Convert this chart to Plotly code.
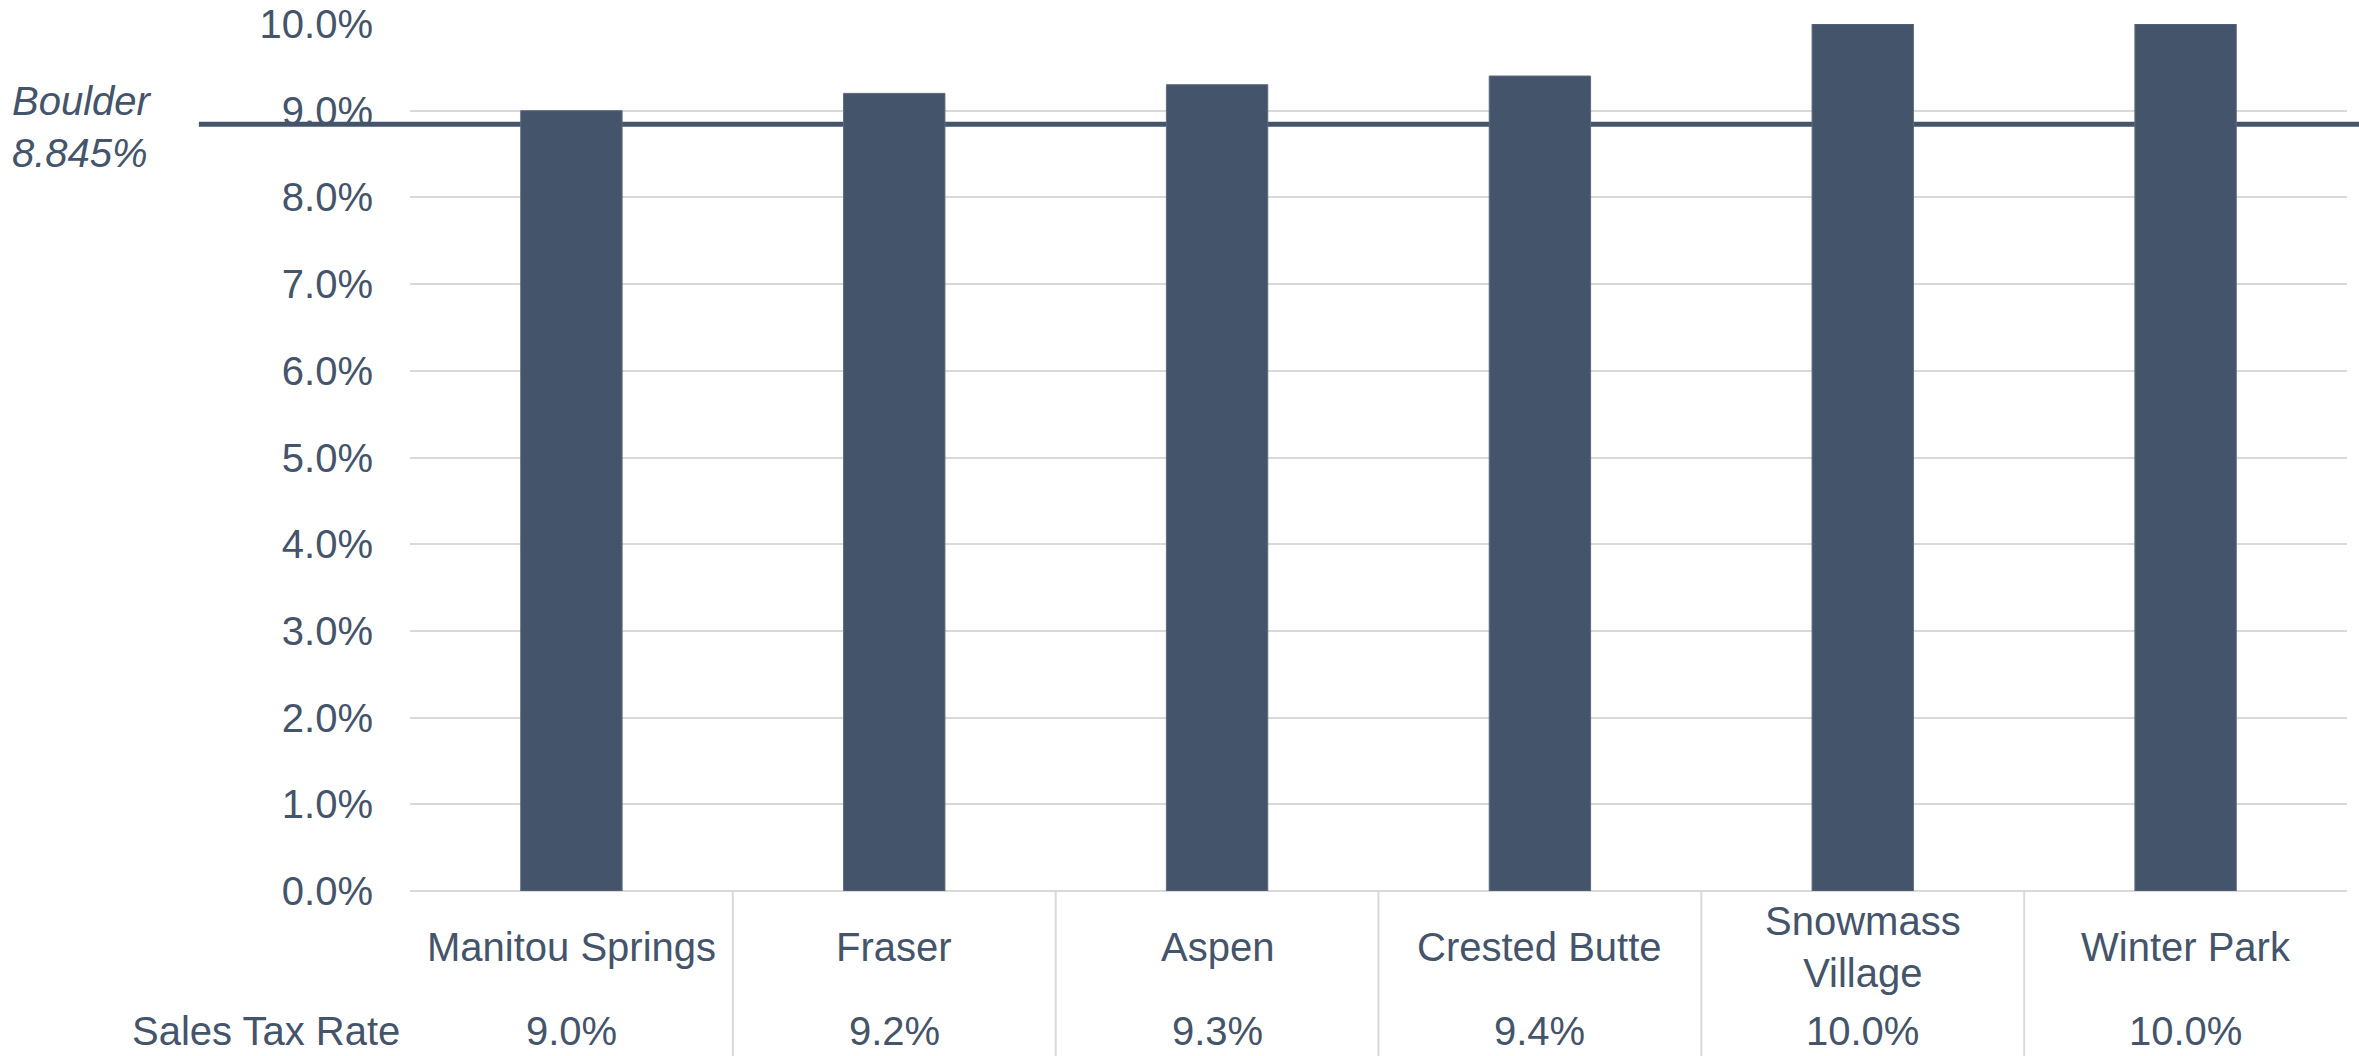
import plotly.graph_objects as go

categories = ["Manitou Springs", "Fraser", "Aspen", "Crested Butte", "Snowmass Village", "Winter Park"]
category_labels = ["Manitou Springs", "Fraser", "Aspen", "Crested Butte", "Snowmass<br>Village", "Winter Park"]
sales_tax = [9.0, 9.2, 9.3, 9.4, 10.0, 10.0]
boulder_rate = 8.845
y_ticks = [0, 1, 2, 3, 4, 5, 6, 7, 8, 9, 10]

COLOR = "#44546A"
FONT = "Liberation Sans, Arial, sans-serif"
GRID = "#D9D9D9"

fig = go.Figure()
fig.add_trace(go.Bar(
    x=categories, y=sales_tax, width=0.314,
    marker=dict(color=COLOR, line=dict(color="#5E6B7E", width=1)),
    hoverinfo="x+y",
))

# Boulder reference line (extends beyond plot area to the right edge)
fig.add_shape(type="line", xref="paper", yref="y",
              x0=-0.109, x1=1.01, y0=boulder_rate, y1=boulder_rate,
              line=dict(color=COLOR, width=5), layer="below")

annotations = []
annotations.append(dict(
    xref="paper", yref="y", x=0, y=boulder_rate, xshift=-400, yshift=-3,
    xanchor="left", yanchor="middle", align="left", showarrow=False,
    text=f"<i>Boulder<br>{boulder_rate:.3f}%</i>",
    font=dict(family=FONT, size=40, color=COLOR)))

for cat, lab, v in zip(categories, category_labels, sales_tax):
    annotations.append(dict(
        xref="x", yref="paper", x=cat, y=0, yshift=-56,
        xanchor="center", yanchor="middle", showarrow=False, text=lab,
        font=dict(family=FONT, size=40, color=COLOR)))
    annotations.append(dict(
        xref="x", yref="paper", x=cat, y=0, yshift=-140,
        xanchor="center", yanchor="middle", showarrow=False, text=f"{v:.1f}%",
        font=dict(family=FONT, size=40, color=COLOR)))

annotations.append(dict(
    xref="paper", yref="paper", x=0, y=0, xshift=-8, yshift=-140,
    xanchor="right", yanchor="middle", showarrow=False, text="Sales Tax Rate",
    font=dict(family=FONT, size=40, color=COLOR)))

# vertical separators in table area
for i in range(len(categories) - 1):
    fig.add_shape(type="line", xref="x", yref="paper",
                  x0=i + 0.5, x1=i + 0.5, y0=0, y1=-0.2,
                  line=dict(color=GRID, width=2), layer="above")

fig.update_layout(
    width=2359, height=1056,
    margin=dict(l=410, r=12, t=24, b=165, autoexpand=False),
    plot_bgcolor="white", paper_bgcolor="white",
    showlegend=False,
    annotations=annotations,
    font=dict(family=FONT, size=40, color=COLOR),
)
fig.update_xaxes(showticklabels=False, showgrid=False, zeroline=False,
                 showline=False, range=[-0.5, 5.5], automargin=False)
fig.update_yaxes(range=[0, 10], tickvals=y_ticks,
                 ticktext=[f"{t:.1f}%" for t in y_ticks],
                 showgrid=True, gridcolor=GRID, gridwidth=2,
                 zeroline=True, zerolinecolor=GRID, zerolinewidth=2,
                 showline=False, ticks="", ticklabelstandoff=36,
                 automargin=False,
                 tickfont=dict(family=FONT, size=40, color=COLOR))

fig.write_html("out.html")
